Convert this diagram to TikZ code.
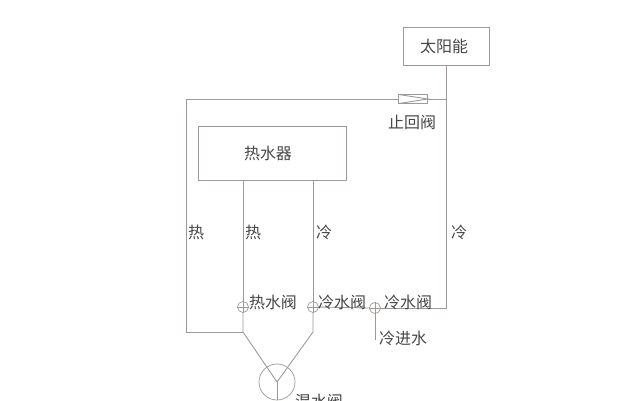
\documentclass[tikz,border=0pt]{standalone}
\usepackage{fontspec}
\newfontfamily\cjk{Noto Sans CJK SC}
\definecolor{pipe}{RGB}{158,152,150}
\definecolor{ink}{RGB}{70,70,70}
\tikzset{
  box/.style={draw=pipe, line width=0.5pt, inner sep=0pt, font=\cjk\fontsize{9.1}{11}\selectfont, text=ink},
  lbl/.style={inner sep=0pt, font=\cjk\fontsize{9.1}{11}\selectfont, text=ink},
  valve/.style={draw=pipe, circle, inner sep=0pt, minimum size=0.22cm},
  pipeline/.style={draw=pipe, line width=0.5pt}
}
\begin{document}
\begin{tikzpicture}[x=0.02cm, y=-0.02cm]
    \useasboundingbox (0,0) rectangle (625,400);
    \clip (0,0) rectangle (625,400);
    % boxes
    \node[box, minimum width=1.72cm, minimum height=0.76cm] (solar) at (446,46) {太阳能\kern0.08cm};
    \node[box, minimum width=2.96cm, minimum height=1.08cm] (heater) at (272,153) {热水器\kern0.16cm};
    \node[draw=pipe, fill=white, inner sep=0pt, minimum width=0.58cm, minimum height=0.17cm] (check) at (413,99) {};
    % valves
    \node[valve] (hotv) at (243,307) {};
    \node[valve] (coldv) at (313,307) {};
    \node[valve] (inv) at (375,308) {};
    \node[draw=pipe, circle, inner sep=0pt, minimum size=0.72cm] (mix) at (277,382) {};
    % corners
    \coordinate (cornerr) at (446,308);
    \coordinate (checkr) at (446,99);
    \coordinate (cornerl) at (186,99);
    \coordinate (cornerb) at (186,332);
    \coordinate (hotj) at (243,332);
    \coordinate (coldj) at (313,332);
    \coordinate (hottop) at (243,180);
    \coordinate (coldtop) at (313,180);
    \coordinate (inend) at (375,340);
    \coordinate (mixend) at (277,400);
    % pipes
    \draw[pipeline] (solar.south) -- (cornerr) -- (inv.east);
    \draw[pipeline] (inv.west) -- (coldv.east);
    \draw[pipeline] (checkr) -- (check.east);
    \draw[pipeline] (check.west) -- (cornerl) -- (cornerb) -- (hotj);
    \draw[pipeline] (hottop) -- (hotv.north);
    \draw[pipeline] (hotv.south) -- (hotj) -- (mix.center);
    \draw[pipeline] (coldtop) -- (coldv.north);
    \draw[pipeline] (coldv.south) -- (coldj) -- (mix.center);
    \draw[pipeline] (mix.center) -- (mixend);
    \draw[pipeline] (inv.south) -- (inend);
    % valve crosses
    \foreach \v in {hotv,coldv,inv} {
        \draw[pipeline] (\v.west) -- (\v.east);
        \draw[pipeline] (\v.north) -- (\v.south);
    }
    \draw[pipeline] (check.north west) -- (check.east) -- (check.south west);
    % labels
    \node[lbl] (checkl) at (412,122) {止回阀};
    \node[lbl] (hot1) at (196,232) {热};
    \node[lbl] (hot2) at (253,232) {热};
    \node[lbl] (cold1) at (324,232) {冷};
    \node[lbl] (cold2) at (459,232) {冷};
    \node[lbl] (hotvl) at (273,302) {热水阀};
    \node[lbl] (coldvl) at (342,302) {冷水阀};
    \node[lbl] (invl) at (408,302) {冷水阀};
    \node[lbl] (inl) at (403,338) {冷进水};
    \node[lbl] (mixl) at (319,401) {混水阀};
\end{tikzpicture}
\end{document}
